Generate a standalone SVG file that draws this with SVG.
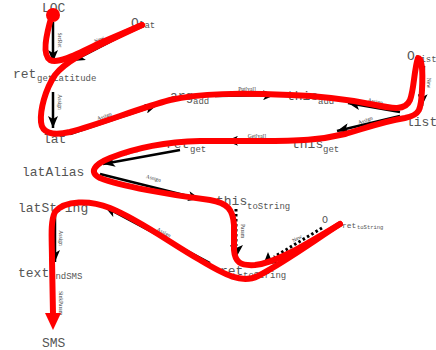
<svg xmlns="http://www.w3.org/2000/svg" width="436" height="350" viewBox="0 0 436 350">
  <style>
    .nd { font-family: "Liberation Mono", "DejaVu Sans Mono", monospace; font-size: 13px; fill: #555; }
    .sub { font-family: "Liberation Mono", "DejaVu Sans Mono", monospace; font-size: 9px; fill: #555; }
    .tiny { font-family: "Liberation Mono", "DejaVu Sans Mono", monospace; font-size: 5.5px; fill: #555; }
    .el { font-family: "Liberation Serif", "Times New Roman", serif; font-size: 5.5px; fill: #333; text-anchor: middle; }
    .edge { fill: none; stroke: #000; stroke-width: 2.5; }
    .dot { fill: none; stroke: #000; stroke-width: 3; stroke-dasharray: 2.5 2.5; }
    .flow { fill: none; stroke: #f00; stroke-width: 6; stroke-linecap: round; stroke-linejoin: round; }
  </style>
  <defs>
    <marker id="ah" markerWidth="12" markerHeight="10" refX="12" refY="5" orient="auto" markerUnits="userSpaceOnUse">
      <path d="M0,0 L12,5 L0,10 L3,5 z" fill="#000"/>
    </marker>
  </defs>

  <!-- points-to edges -->
  <g id="edges">
    <path class="edge" d="M53,22 L53,62" marker-end="url(#ah)"/>
    <path class="edge" d="M135,29 L73,61" marker-end="url(#ah)"/>
    <path class="edge" d="M53,92 L53,128" marker-end="url(#ah)"/>
    <path class="edge" d="M70,134 L157,105" marker-end="url(#ah)"/>
    <path class="edge" d="M215,96 L275,95" marker-end="url(#ah)"/>
    <path class="edge" d="M400,112 L348,103" marker-end="url(#ah)"/>
    <path class="edge" d="M424,66 L422,106" marker-end="url(#ah)"/>
    <path class="edge" d="M400,116 L337,131" marker-end="url(#ah)"/>
    <path class="edge" d="M290,140 L226,141" marker-end="url(#ah)"/>
    <path class="edge" d="M180,150 L103,164" marker-end="url(#ah)"/>
    <path class="edge" d="M100,174 L200,199" marker-end="url(#ah)"/>
    <path class="dot" d="M236,209 L236,246"/>
    <path d="M230,245 L236,258 L243,245 L236,248 z" fill="#000"/>
    <path class="dot" d="M322,228 L274,257"/>
    <path d="M268,252 L263,265 L277,263 L271,259 z" fill="#000"/>
    <path class="edge" d="M210,263 L105,207" marker-end="url(#ah)"/>
    <path class="edge" d="M55,215 L55,262" marker-end="url(#ah)"/>

    <text class="el" transform="translate(58,40) rotate(90)">SrcRet</text>
    <text class="el" transform="translate(100,41) rotate(-25)">New</text>
    <text class="el" transform="translate(58,102) rotate(90)">Assign</text>
    <text class="el" transform="translate(105,118) rotate(-20)">Assign</text>
    <text class="el" transform="translate(247,91)">Put[val]</text>
    <text class="el" transform="translate(375,103) rotate(12)">Assign</text>
    <text class="el" transform="translate(427,83) rotate(90)">New</text>
    <text class="el" transform="translate(366,122) rotate(-20)">Assign</text>
    <text class="el" transform="translate(257,138)">Get[val]</text>
    <text class="el" transform="translate(133,153) rotate(-22)">Assign</text>
    <text class="el" transform="translate(153,180) rotate(15)">Assign</text>
    <text class="el" transform="translate(241,231) rotate(90)">Param</text>
    <text class="el" transform="translate(298,240) rotate(-30)">New</text>
    <text class="el" transform="translate(163,234) rotate(28)">Assign</text>
    <text class="el" transform="translate(59,238) rotate(90)">Assign</text>
    <text class="el" transform="translate(59,303) rotate(90)">SinkParam</text>
  </g>

  <!-- nodes -->
  <g id="n-loc"><text class="nd" x="42" y="12">LOC</text></g>
  <g id="n-olat"><text class="nd" x="131" y="27">O</text><text class="sub" x="139" y="28">lat</text></g>
  <g id="n-retlat"><text class="nd" x="13" y="78">ret</text><text class="sub" x="37" y="81">getLatitude</text></g>
  <g id="n-lat"><text class="nd" x="43" y="143">lat</text></g>
  <g id="n-argadd"><text class="nd" x="170" y="100">arg</text><text class="sub" x="193" y="104">add</text></g>
  <g id="n-thisadd"><text class="nd" x="287" y="100">this</text><text class="sub" x="318" y="104">add</text></g>
  <g id="n-olist"><text class="nd" x="407" y="60">O</text><text class="sub" x="415" y="62">list</text></g>
  <g id="n-list"><text class="nd" x="406" y="126">list</text></g>
  <g id="n-thisget"><text class="nd" x="292" y="148">this</text><text class="sub" x="323" y="152">get</text></g>
  <g id="n-retget"><text class="nd" x="166" y="148">ret</text><text class="sub" x="190" y="152">get</text></g>
  <g id="n-latalias"><text class="nd" x="22" y="176">latAlias</text></g>
  <g id="n-thistostr"><text class="nd" x="216" y="205">this</text><text class="sub" x="247" y="209">toString</text></g>
  <g id="n-latstring"><text class="nd" x="18" y="212">latString</text></g>
  <g id="n-otostr"><text class="nd" x="322" y="223" style="font-size:10px">O</text><text class="sub" x="342" y="228" style="font-size:8px">ret</text><text class="tiny" x="357" y="229">toString</text></g>
  <g id="n-rettostr"><text class="nd" x="220" y="275">ret</text><text class="sub" x="243" y="278">toString</text></g>
  <g id="n-text"><text class="nd" x="18" y="277">text</text><text class="sub" x="50" y="279">endSMS</text></g>
  <g id="n-sms"><text class="nd" x="42" y="347">SMS</text></g>

  <!-- taint flow overlay -->
  <g id="flow">
    <circle cx="53" cy="15" r="7" fill="#f00"/>
    <path class="flow" d="M52,15 C46,35 42,55 50,60 C58,64 75,55 100,43 L142,25"/>
    <path class="flow" d="M142,25 L110,40 C85,52 65,62 55,75 C45,90 40,110 41,122 C42,133 52,136 70,132 C100,124 140,108 170,100 C200,93 240,93 290,95 C320,96 345,99 370,104 C390,108 405,112 410,100 C414,90 414,70 418,58 C422,58 423,70 422,90 C421,110 420,115 405,118 C380,122 360,130 345,134 C320,140 300,141 260,141 L200,141 C160,142 130,150 110,158 C95,164 88,172 100,178 C120,186 170,195 210,200 C228,203 233,210 234,225 L234,250 C235,262 240,266 255,265 C275,263 300,248 340,224"/>
    <path class="flow" d="M340,224 C315,240 285,262 258,276 C242,284 225,275 200,260 C170,243 140,220 110,208 C90,200 65,200 55,212 C50,222 52,240 52,260 L53,314"/>
    <path d="M45,313 L61,313 L53,330 z" fill="#f00"/>
  </g>
</svg>
